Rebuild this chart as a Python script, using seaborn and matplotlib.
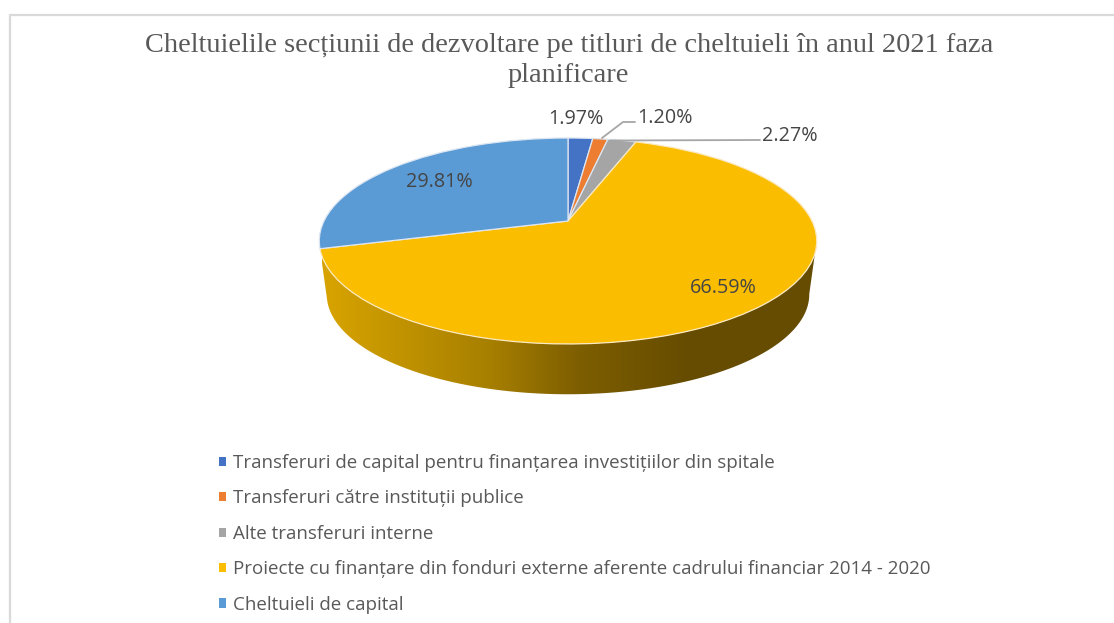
import numpy as np
import matplotlib
matplotlib.use("Agg")
import matplotlib.pyplot as plt
import seaborn as sns
from matplotlib.patches import Polygon
from matplotlib.lines import Line2D
from matplotlib.transforms import Transform
from matplotlib.colors import LinearSegmentedColormap

title_lines = ["Cheltuielile secțiunii de dezvoltare pe titluri de cheltuieli în anul 2021 faza",
               "planificare"]
categories = ["Transferuri de capital pentru finanțarea investițiilor din spitale",
              "Transferuri către instituții publice",
              "Alte transferuri interne",
              "Proiecte cu finanțare din fonduri externe aferente cadrului financiar 2014 - 2020",
              "Cheltuieli de capital"]
shares = [1.97, 1.20, 2.27, 66.59, 29.81]
slice_colors = ["#4472C4", "#ED7D31", "#A5A5A5", "#FBBD00", "#5B9BD5"]

sns.set_theme(style="white")
plt.rcParams["font.family"] = ["Open Sans", "DejaVu Sans"]
palette = sns.color_palette(slice_colors)

W, H = 1114, 623
fig = plt.figure(figsize=(W / 100, H / 100), dpi=100, facecolor="white")
ax = fig.add_axes([0, 0, 1, 1])

CX, CY, A, B, K = 568.0, 221.0, 244.0, 99.1, 0.194


def project(u, v, scale=1.0, dy=0.0):
    d = 1 + K * v
    return CX + scale * A * u / d, CY + dy - scale * B * v / d


class Tilt(Transform):
    """Perspective view of the flat unit-circle pie, in pixel coordinates."""
    input_dims = 2
    output_dims = 2

    def transform_non_affine(self, values):
        values = np.asarray(values, dtype=float)
        x, y = project(values[:, 0], values[:, 1])
        return np.column_stack([x, y])


wedges, _ = ax.pie(shares, colors=palette, startangle=90, counterclock=False,
                   radius=1.0, center=(0, 0), normalize=True,
                   wedgeprops=dict(edgecolor="#FBE9C0", linewidth=0.9))
ax.set_aspect("auto")
tilt = Tilt()
for w in wedges:
    w.set_transform(tilt + ax.transData)
    w.set_clip_on(False)
    w.set_zorder(3)
# lighter seams between top-face slices
for w in wedges[:3] + wedges[4:]:
    w.set_edgecolor("#DCE6F2")

# side wall of the big slice, shaded left-to-right
fr = np.cumsum(shares) / np.sum(shares)
end_big = 2 * np.pi * fr[3]
th = np.radians(np.linspace(101, np.degrees(end_big), 240))
tx, ty = project(np.sin(th), np.cos(th))
bx, by = project(np.sin(th), np.cos(th), scale=0.97, dy=54)
wall = Polygon(np.column_stack([np.r_[tx, bx[::-1]], np.r_[ty, by[::-1]]]),
               closed=True, facecolor="none", edgecolor="none",
               transform=ax.transData)
ax.add_patch(wall)
cmap = LinearSegmentedColormap.from_list(
    "side", [(0, "#D8A400"), (0.45, "#A88000"), (0.7, "#7D5E00"), (1, "#664C00")])
img = ax.imshow(np.linspace(0, 1, 256)[None, :], cmap=cmap, aspect="auto",
                extent=(322, 690, 400, 240), zorder=2, interpolation="bilinear")
dark = Polygon(np.column_stack([[690, 825, 825, 690], [240, 240, 400, 400]]),
               facecolor="#664C00", edgecolor="none", zorder=2)
ax.add_patch(dark)
dark.set_clip_path(wall)
img.set_clip_path(wall)

# data labels
label_pos = [(576, 119), (665, 118), (790, 136), (723, 288), (439, 182)]
for val, (x, y) in zip(shares, label_pos):
    ax.text(x, y, f"{val:.2f}%", ha="center", va="center", fontsize=14.2,
            color="#454545", zorder=5)

# leader lines
for xs, ys in [((602, 623, 635), (138, 122, 122)), ((610, 760), (140.5, 140))]:
    ax.add_line(Line2D(xs, ys, color="#A6A6A6", lw=1.3, zorder=4))

# title
ax.text(569, 46, title_lines[0], ha="center", va="center", fontsize=20.4,
        family="Liberation Serif", color="#595959")
ax.text(568, 75, title_lines[1], ha="center", va="center", fontsize=20.4,
        family="Liberation Serif", color="#595959")

# chart border
ax.add_line(Line2D([9.5, 9.5, W], [H, 14.5, 14.5], color="#D9D9D9", lw=1.6))

# legend
leg = ax.legend(wedges, categories, loc="upper left", bbox_to_anchor=(219 / W, 1 - 454 / H),
                bbox_transform=fig.transFigure, frameon=False, fontsize=13.5,
                labelcolor="#595959", handlelength=0.37, handleheight=0.37,
                handletextpad=0.37, labelspacing=0.93, borderpad=0, borderaxespad=0)
for h in leg.get_patches():
    h.set_edgecolor("none")

ax.set_xlim(0, W)
ax.set_ylim(H, 0)
ax.axis("off")
fig.savefig("out.png", dpi=100, facecolor="white")
